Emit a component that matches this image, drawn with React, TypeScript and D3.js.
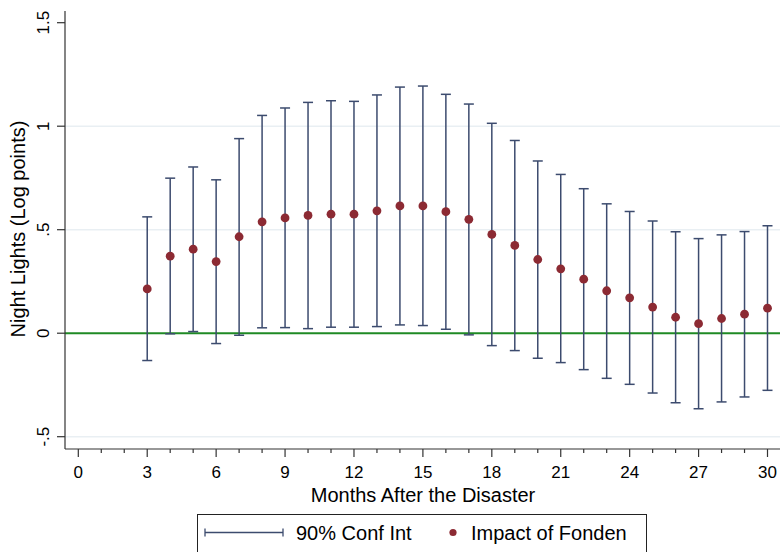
import React, { useEffect, useRef } from 'react';
import * as d3 from 'd3';

// Months after the disaster and the estimated effect with its 90% CI
const months = [3, 4, 5, 6, 7, 8, 9, 10, 11, 12, 13, 14, 15, 16, 17, 18, 19, 20, 21, 22, 23, 24, 25, 26, 27, 28, 29, 30];
const estimate = [0.214, 0.372, 0.406, 0.346, 0.466, 0.538, 0.557, 0.569, 0.575, 0.575, 0.591, 0.615, 0.615, 0.587, 0.55, 0.477, 0.424, 0.356, 0.311, 0.261, 0.205, 0.171, 0.126, 0.077, 0.046, 0.071, 0.092, 0.121];
const upper = [0.562, 0.749, 0.803, 0.741, 0.94, 1.052, 1.088, 1.115, 1.123, 1.12, 1.151, 1.189, 1.194, 1.154, 1.107, 1.014, 0.931, 0.832, 0.767, 0.698, 0.625, 0.588, 0.542, 0.49, 0.457, 0.475, 0.491, 0.519];
const lower = [-0.132, -0.003, 0.008, -0.05, -0.01, 0.026, 0.027, 0.022, 0.029, 0.029, 0.032, 0.04, 0.037, 0.019, -0.008, -0.06, -0.084, -0.121, -0.142, -0.176, -0.218, -0.247, -0.289, -0.336, -0.365, -0.332, -0.308, -0.276];

const yTicks = [-0.5, 0, 0.5, 1, 1.5];
const yTickLabels = ['-.5', '0', '.5', '1', '1.5'];
const yGrid = [-0.5, 0.5, 1];
const xMajor = [0, 3, 6, 9, 12, 15, 18, 21, 24, 27, 30];
const xMinor = d3.range(0, 31);

const legendLabels = ['90% Conf Int', 'Impact of Fonden'];

const App = () => {
  const ref = useRef<SVGSVGElement>(null);

  useEffect(() => {
    const svg = d3.select(ref.current);
    svg.selectAll('*').remove();

    const font = 'Liberation Sans, Arial, Helvetica, sans-serif';
    const barColor = '#3c4b6e';
    const dotColor = '#8c2a33';

    // plot area
    const left = 65;
    const right = 780;
    const top = 11;
    const bottom = 449;

    const x = d3.scaleLinear().domain([0, 30]).range([78.3, 767.5]);
    const y = d3.scaleLinear().domain([-0.5, 1.5]).range([436.7, 22.7]);

    // grid lines
    svg
      .append('g')
      .selectAll('line')
      .data(yGrid)
      .enter()
      .append('line')
      .attr('x1', left)
      .attr('x2', right)
      .attr('y1', (d) => y(d))
      .attr('y2', (d) => y(d))
      .style('stroke', '#e9eff3')
      .style('stroke-width', 1.5);

    // zero line
    svg
      .append('line')
      .attr('x1', left)
      .attr('x2', right)
      .attr('y1', y(0))
      .attr('y2', y(0))
      .style('stroke', '#1f8a24')
      .style('stroke-width', 2);

    // confidence intervals
    const bars = svg.append('g');
    bars
      .selectAll('.ci')
      .data(months)
      .enter()
      .append('line')
      .attr('x1', (d) => x(d))
      .attr('x2', (d) => x(d))
      .attr('y1', (d, i) => y(upper[i]))
      .attr('y2', (d, i) => y(lower[i]))
      .style('stroke', barColor)
      .style('stroke-width', 1.5);
    [upper, lower].forEach((arr) => {
      bars
        .append('g')
        .selectAll('line')
        .data(months)
        .enter()
        .append('line')
        .attr('x1', (d) => x(d) - 5)
        .attr('x2', (d) => x(d) + 5)
        .attr('y1', (d, i) => y(arr[i]))
        .attr('y2', (d, i) => y(arr[i]))
        .style('stroke', barColor)
        .style('stroke-width', 1.5);
    });

    // point estimates
    svg
      .append('g')
      .selectAll('circle')
      .data(months)
      .enter()
      .append('circle')
      .attr('cx', (d) => x(d))
      .attr('cy', (d, i) => y(estimate[i]))
      .attr('r', 4.4)
      .style('fill', dotColor);

    // axes
    svg
      .append('line')
      .attr('x1', left)
      .attr('x2', left)
      .attr('y1', top)
      .attr('y2', bottom)
      .style('stroke', '#333')
      .style('stroke-width', 1.2);
    svg
      .append('line')
      .attr('x1', left)
      .attr('x2', right)
      .attr('y1', bottom)
      .attr('y2', bottom)
      .style('stroke', '#333')
      .style('stroke-width', 1.2);

    // y ticks
    const yt = svg.append('g');
    yt.selectAll('line')
      .data(yTicks)
      .enter()
      .append('line')
      .attr('x1', left - 8)
      .attr('x2', left)
      .attr('y1', (d) => y(d))
      .attr('y2', (d) => y(d))
      .style('stroke', '#333')
      .style('stroke-width', 1.2);
    yt.selectAll('text')
      .data(yTicks)
      .enter()
      .append('text')
      .attr('transform', (d) => `translate(49, ${y(d)}) rotate(-90)`)
      .style('text-anchor', 'middle')
      .style('font-family', font)
      .style('font-size', '17px')
      .text((d, i) => yTickLabels[i]);

    // x ticks
    const xt = svg.append('g');
    xt.selectAll('.minor')
      .data(xMinor)
      .enter()
      .append('line')
      .attr('x1', (d) => x(d))
      .attr('x2', (d) => x(d))
      .attr('y1', bottom)
      .attr('y2', (d) => (d % 3 === 0 ? bottom + 8 : bottom + 4))
      .style('stroke', '#333')
      .style('stroke-width', 1.2);
    xt.selectAll('text')
      .data(xMajor)
      .enter()
      .append('text')
      .attr('x', (d) => x(d))
      .attr('y', 477.5)
      .style('text-anchor', 'middle')
      .style('font-family', font)
      .style('font-size', '17px')
      .text((d) => String(d));

    // axis titles
    svg
      .append('text')
      .attr('x', 423)
      .attr('y', 501.5)
      .style('text-anchor', 'middle')
      .style('font-family', font)
      .style('font-size', '20px')
      .text('Months After the Disaster');
    svg
      .append('text')
      .attr('transform', 'translate(24.5, 229) rotate(-90)')
      .style('text-anchor', 'middle')
      .style('font-family', font)
      .style('font-size', '20px')
      .text('Night Lights (Log points)');

    // legend
    const lg = svg.append('g');
    lg.append('rect')
      .attr('x', 197.5)
      .attr('y', 514.5)
      .attr('width', 449)
      .attr('height', 60)
      .style('fill', 'white')
      .style('stroke', '#222')
      .style('stroke-width', 1);
    lg.append('line')
      .attr('x1', 205)
      .attr('x2', 283)
      .attr('y1', 532.5)
      .attr('y2', 532.5)
      .style('stroke', barColor)
      .style('stroke-width', 1.3);
    [205, 283].forEach((cx) => {
      lg.append('line')
        .attr('x1', cx)
        .attr('x2', cx)
        .attr('y1', 528.5)
        .attr('y2', 536.5)
        .style('stroke', barColor)
        .style('stroke-width', 1.3);
    });
    lg.append('circle')
      .attr('cx', 453)
      .attr('cy', 532.5)
      .attr('r', 3.6)
      .style('fill', dotColor);
    lg.selectAll('.lt')
      .data(legendLabels)
      .enter()
      .append('text')
      .attr('x', (d, i) => (i === 0 ? 296 : 471))
      .attr('y', 539.5)
      .style('font-family', font)
      .style('font-size', '20px')
      .text((d) => d);
  }, []);

  return (
    <div className="chart">
      <svg
        ref={ref}
        width="780"
        height="552"
        style={{ position: 'absolute', left: 0, top: 0, background: 'white' }}
      ></svg>
    </div>
  );
};

export default App;
